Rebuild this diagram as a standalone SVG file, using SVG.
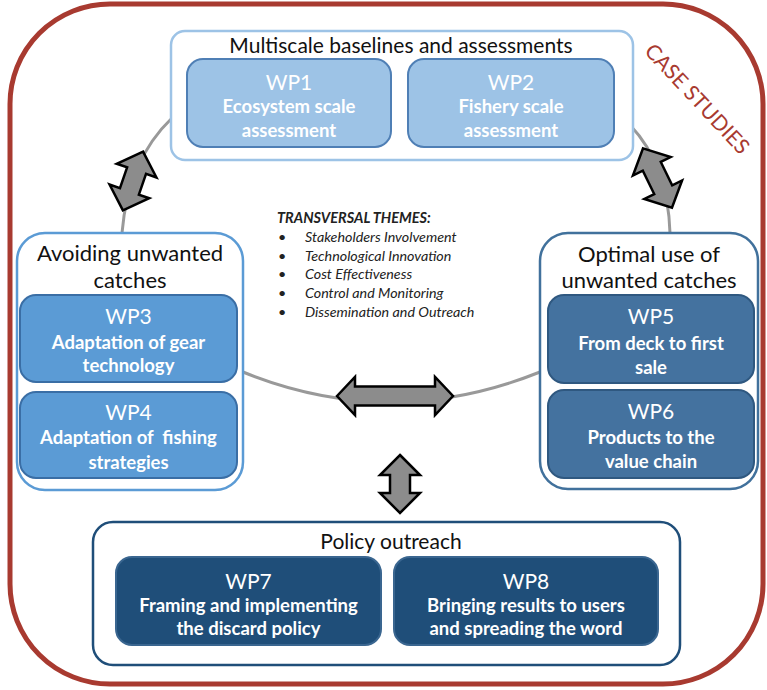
<svg xmlns="http://www.w3.org/2000/svg" width="767" height="690" viewBox="0 0 767 690">
<style>
.frame{fill:#fff;stroke:#a83a30;stroke-width:5}
.cont{fill:#fff;stroke-width:2.5}
.wp{stroke-width:2}
.t{font-family:Lato,"Liberation Sans",sans-serif;text-anchor:middle}
.title{font-size:21px;fill:#111}
.lab{font-size:21px;fill:#fff}
.sub{font-size:18.5px;fill:#fff;font-weight:bold}
.theme{font-family:Lato,"Liberation Sans",sans-serif;font-size:14.3px;font-style:italic;fill:#222}
.link{fill:none;stroke:#999;stroke-width:3}
.arr{fill:#8c8c8c;stroke:#000;stroke-width:2.5;stroke-linejoin:miter}
</style>
<rect class="frame" x="10" y="4" width="753" height="680" rx="100"/>
<text x="697" y="106" transform="rotate(47 697 99)" style="font-family:Lato,'Liberation Sans',sans-serif;font-size:21px;fill:#a83a30;text-anchor:middle">CASE STUDIES</text>

<g id="connectors">
<path class="link" d="M 172 118 Q 128 160 122 233"/>
<path class="link" d="M 630 125 Q 668 165 670 233"/>
<path class="link" d="M 243 372 Q 391 432 540 372"/>
<polygon class="arr" transform="translate(133 181) rotate(-71)" points="-31,0 -11,-21 -11,-10 11,-10 11,-21 31,0 11,21 11,10 -11,10 -11,21"/>
<polygon class="arr" transform="translate(657.5 178) rotate(64)" points="-33,0 -13,-21 -13,-10 13,-10 13,-21 33,0 13,21 13,10 -13,10 -13,21"/>
<polygon class="arr" points="337,396 355,377 355,386.5 435,386.5 435,377 453,396 435,415 435,405.5 355,405.5 355,415"/>
<polygon class="arr" points="400,455 420,475 410,475 410,493 420,493 400,513 380,493 390,493 390,475 380,475"/>
</g>

<g id="top-group">
<rect class="cont" x="171" y="31" width="462" height="129" rx="14" stroke="#9dc3e6"/>
<text class="t title" x="401" y="53">Multiscale baselines and assessments</text>
</g>
<g id="wp1">
<rect class="wp" x="187" y="59" width="204" height="88" rx="16" fill="#9dc3e6" stroke="#4f7fb5"/>
<text class="t lab" x="289" y="90">WP1</text>
<text class="t sub" x="289" y="113">Ecosystem scale</text>
<text class="t sub" x="289" y="137">assessment</text>
</g>
<g id="wp2">
<rect class="wp" x="408" y="59" width="206" height="88" rx="16" fill="#9dc3e6" stroke="#4f7fb5"/>
<text class="t lab" x="511" y="90">WP2</text>
<text class="t sub" x="511" y="113">Fishery scale</text>
<text class="t sub" x="511" y="137">assessment</text>
</g>

<g id="left-group">
<rect class="cont" x="17" y="233" width="226" height="257" rx="28" stroke="#5b9bd5"/>
<text class="t title" x="130" y="261" style="font-size:22px">Avoiding unwanted</text>
<text class="t title" x="130" y="288" style="font-size:22px">catches</text>
</g>
<g id="wp3">
<rect class="wp" x="20" y="295" width="217" height="87" rx="16" fill="#5b9bd5" stroke="#3a6ea5"/>
<text class="t lab" x="128.5" y="324">WP3</text>
<text class="t sub" x="128.5" y="349">Adaptation of gear</text>
<text class="t sub" x="128.5" y="372">technology</text>
</g>
<g id="wp4">
<rect class="wp" x="20" y="392" width="217" height="86" rx="16" fill="#5b9bd5" stroke="#3a6ea5"/>
<text class="t lab" x="128.5" y="420">WP4</text>
<text class="t sub" x="128.5" y="444" xml:space="preserve">Adaptation of  fishing</text>
<text class="t sub" x="128.5" y="469">strategies</text>
</g>

<g id="right-group">
<rect class="cont" x="540" y="233" width="218" height="256" rx="28" stroke="#41719c"/>
<text class="t title" x="649" y="262" style="font-size:22px">Optimal use of</text>
<text class="t title" x="649" y="288" style="font-size:22px">unwanted catches</text>
</g>
<g id="wp5">
<rect class="wp" x="548" y="295" width="206" height="88" rx="16" fill="#44729f" stroke="#2f5880"/>
<text class="t lab" x="651" y="324">WP5</text>
<text class="t sub" x="651" y="350">From deck to first</text>
<text class="t sub" x="651" y="374">sale</text>
</g>
<g id="wp6">
<rect class="wp" x="548" y="390" width="206" height="88" rx="16" fill="#44729f" stroke="#2f5880"/>
<text class="t lab" x="651" y="419">WP6</text>
<text class="t sub" x="651" y="444">Products to the</text>
<text class="t sub" x="651" y="468">value chain</text>
</g>

<g id="bottom-group">
<rect class="cont" x="93" y="522" width="587" height="143" rx="20" stroke="#1f4e79"/>
<text class="t title" x="391" y="549">Policy outreach</text>
</g>
<g id="wp7">
<rect class="wp" x="116" y="557" width="265" height="88" rx="16" fill="#1f4e79" stroke="#3a6690"/>
<text class="t lab" x="248.5" y="589">WP7</text>
<text class="t sub" x="248.5" y="612">Framing and implementing</text>
<text class="t sub" x="248.5" y="635">the discard policy</text>
</g>
<g id="wp8">
<rect class="wp" x="394" y="557" width="264" height="88" rx="16" fill="#1f4e79" stroke="#3a6690"/>
<text class="t lab" x="526" y="589">WP8</text>
<text class="t sub" x="526" y="612">Bringing results to users</text>
<text class="t sub" x="526" y="635">and spreading the word</text>
</g>

<g id="themes">
<text class="theme" x="277" y="223" style="font-weight:bold;font-size:14.5px">TRANSVERSAL THEMES:</text>
<g class="theme">
<text x="278" y="242">•</text><text x="305" y="242">Stakeholders Involvement</text>
<text x="278" y="261">•</text><text x="305" y="261">Technological Innovation</text>
<text x="278" y="279">•</text><text x="305" y="279">Cost Effectiveness</text>
<text x="278" y="298">•</text><text x="305" y="298">Control and Monitoring</text>
<text x="278" y="317">•</text><text x="305" y="317">Dissemination and Outreach</text>
</g>
</g>
</svg>
